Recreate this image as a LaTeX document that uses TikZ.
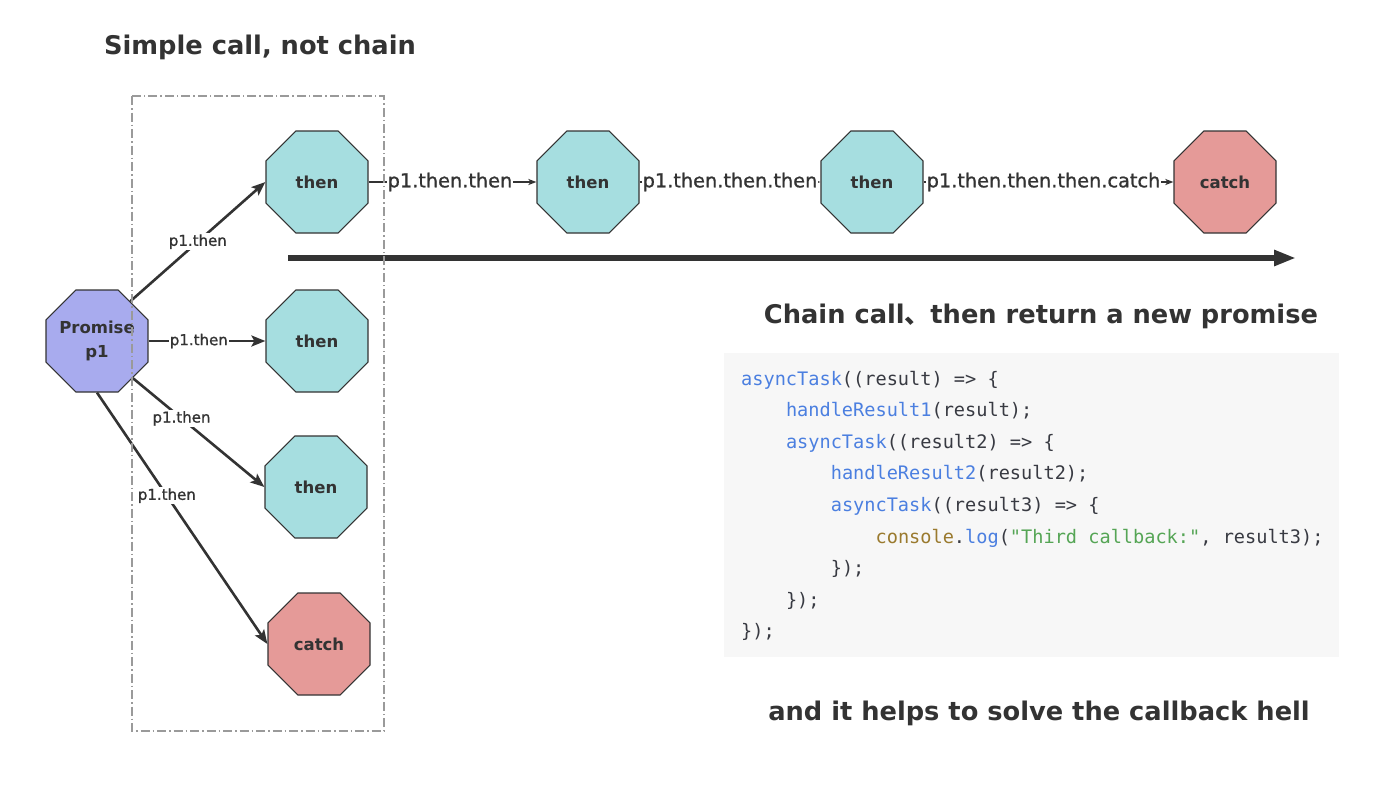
\documentclass[tikz,border=0pt]{standalone}
\usepackage{fontspec}
\setmainfont{DejaVu Sans}
\newfontfamily\codefont{DejaVu Sans Mono}
\newfontfamily\cjkfont{Noto Sans CJK SC}
\newfontfamily\lblfont[FakeBold=1]{DejaVu Sans}
\usetikzlibrary{shapes.geometric,arrows.meta}
\definecolor{ink}{HTML}{333333}
\definecolor{tealfill}{HTML}{A6DEE0}
\definecolor{redfill}{HTML}{E59A98}
\definecolor{bluefill}{HTML}{A8ABEE}
\definecolor{codebg}{HTML}{F7F7F7}
\definecolor{kwblue}{HTML}{4B7FE0}
\definecolor{kwbrown}{HTML}{9A7A2E}
\definecolor{strgreen}{HTML}{55A555}
\definecolor{codeink}{HTML}{383A42}
\definecolor{boxgray}{HTML}{9A9A9A}
\tikzset{
  octa/.style={regular polygon, regular polygon sides=8, minimum size=110.4pt,
    inner sep=0pt, draw=ink, line width=1.2pt},
  octatxt/.style={inner sep=0pt, text=ink, align=center,
    font=\fontsize{16.5}{24}\selectfont\bfseries},
  thenbox/.style={octa, fill=tealfill},
  catchbox/.style={octa, fill=redfill},
  promisebox/.style={octa, fill=bluefill},
  bigedge/.style={draw=ink, line width=2.6pt, -{Stealth[length=14pt,width=11pt,inset=3pt]}},
  chainedge/.style={draw=ink, line width=1.4pt, -{Stealth[length=8pt,width=6pt,inset=2pt]}},
  smalllbl/.style={fill=white, inner sep=1pt, text=ink, font=\lblfont\fontsize{15}{18}\selectfont},
  chainlbl/.style={fill=white, inner sep=1pt, text=ink, font=\lblfont\fontsize{19.3}{22}\selectfont},
  titletxt/.style={inner sep=0pt, text=ink, font=\fontsize{25.7}{30}\selectfont\bfseries},
  codeline/.style={anchor=base west, inner sep=0pt, text=codeink, font=\codefont\fontsize{18.6}{22}\selectfont},
}
\begin{document}
\begin{tikzpicture}[x=1pt,y=-1pt]
\useasboundingbox (0,0) rectangle (1384,806);

% titles
\node[titletxt] (t1) at (260,47) {Simple call, not chain};
\node[titletxt] (t2) at (1041,316) {Chain call{\cjkfont 、}then return a new promise};
\node[titletxt] (t3) at (1039,713) {and it helps to solve the callback hell};

% nodes
\node[promisebox, label={[octatxt]center:Promise\\p1}] (p1) at (97,341) {};
\node[thenbox, label={[octatxt]center:then}] (a1) at (317,182) {};
\node[thenbox, label={[octatxt]center:then}] (a2) at (317,341) {};
\node[thenbox, label={[octatxt]center:then}] (a3) at (316,487) {};
\node[catchbox, label={[octatxt]center:catch}] (a4) at (319,644) {};
\node[thenbox, label={[octatxt]center:then}] (b2) at (588,182) {};
\node[thenbox, label={[octatxt]center:then}] (b3) at (872,182) {};
\node[catchbox, label={[octatxt]center:catch}] (b4) at (1225,182) {};

% left edges
\draw[bigedge] (p1.50) -- node[smalllbl, pos=0.5] {p1.then} (a1.west);
\draw[bigedge] (p1.east) -- node[smalllbl, pos=0.43] {p1.then} (a2.west);
\draw[bigedge] (p1.-46) -- node[smalllbl, pos=0.37] {p1.then} (a3.west);
\draw[bigedge] (p1.south) -- node[smalllbl, pos=0.41] {p1.then} (a4.west);

% chain edges
\draw[chainedge] (a1.east) -- node[chainlbl, pos=0.485] {p1.then.then} (b2.west);
\draw[chainedge] (b2.east) -- node[chainlbl, pos=0.5] {p1.then.then.then} (b3.west);
\draw[chainedge] (b3.east) -- node[chainlbl, pos=0.48] {p1.then.then.then.catch} (b4.west);

% big arrow
\coordinate (arrS) at (288,258);
\coordinate (arrE) at (1296,258);
\draw[draw=ink, line width=5.5pt, -{Triangle[length=22pt,width=15pt]}] (arrS) -- (arrE);

% code block
\fill[codebg] (724,353) rectangle (1339,657);
\node[codeline] (c1) at (741,385) {\textcolor{kwblue}{asyncTask}((result) => \{};
\node[codeline] (c2) at (785.8,416.6) {\textcolor{kwblue}{handleResult1}(result);};
\node[codeline] (c3) at (785.8,448.2) {\textcolor{kwblue}{asyncTask}((result2) => \{};
\node[codeline] (c4) at (830.6,479.8) {\textcolor{kwblue}{handleResult2}(result2);};
\node[codeline] (c5) at (830.6,511.4) {\textcolor{kwblue}{asyncTask}((result3) => \{};
\node[codeline] (c6) at (875.4,543) {\textcolor{kwbrown}{console}.\textcolor{kwblue}{log}(\textcolor{strgreen}{"Third callback:"}, result3);};
\node[codeline] (c7) at (830.6,574.6) {\});};
\node[codeline] (c8) at (785.8,606.2) {\});};
\node[codeline] (c9) at (741,637.8) {\});};

% dash-dot group box
\draw[boxgray, line width=1.4pt, dash pattern=on 9pt off 3pt on 1.5pt off 3pt] (132,96) rectangle (384,731);
\end{tikzpicture}
\end{document}
